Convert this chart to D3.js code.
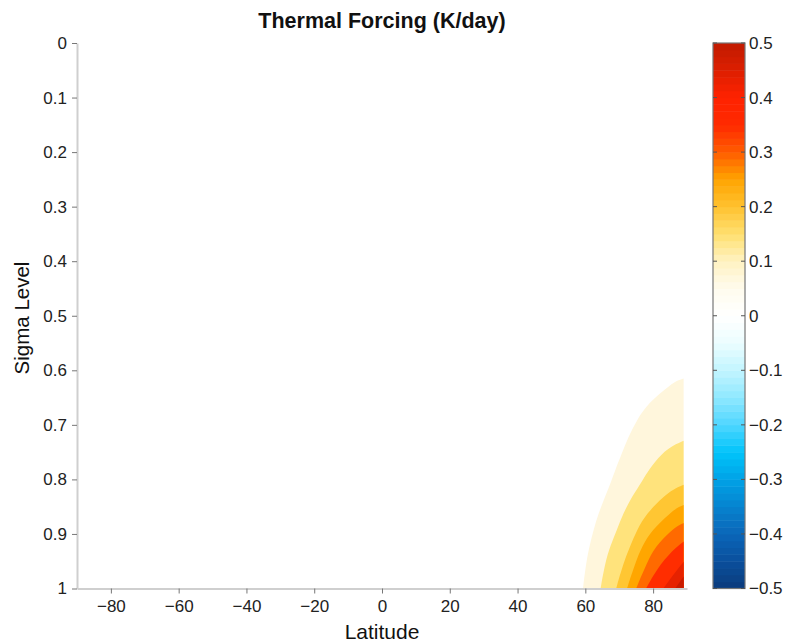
<!DOCTYPE html>
<html>
<head>
<meta charset="utf-8">
<script src="https://cdn.jsdelivr.net/npm/d3@7"></script>
<style>
  body { margin: 0; background: #fff; font-family: "Liberation Sans", Arial, sans-serif; }
  .axis text { font-size: 17px; fill: #222; }
</style>
</head>
<body>
<div id="chart"></div>
<script>
// tick values
const latTicks = [-80, -60, -40, -20, 0, 20, 40, 60, 80];
const sigmaTicks = [0, 0.1, 0.2, 0.3, 0.4, 0.5, 0.6, 0.7, 0.8, 0.9, 1];
const cbarTicks = [0.5, 0.4, 0.3, 0.2, 0.1, 0, -0.1, -0.2, -0.3, -0.4, -0.5];

// contour levels (K/day) and the boundary of each one, [lat, sigma]
const levels = [0.05, 0.1, 0.15, 0.2, 0.25, 0.3, 0.35, 0.4];
const latMax = 89; // last grid latitude
const c05 = [[89, 0.615], [86.5, 0.620], [84.5, 0.630], [78.6, 0.660], [75.2, 0.691], [72.7, 0.722], [70.8, 0.752], [68.8, 0.783], [67.8, 0.801], [65.8, 0.832], [63.9, 0.862], [62.4, 0.893], [61.2, 0.923], [60.2, 0.954], [59.3, 1]];
const c10 = [[89, 0.729], [86, 0.737], [82.6, 0.752], [78.6, 0.783], [77.0, 0.801], [73.7, 0.832], [71.2, 0.862], [69.3, 0.893], [67.3, 0.923], [65.8, 0.954], [64.5, 1]];
const c15 = [[89, 0.810], [86, 0.818], [83.0, 0.832], [78.1, 0.862], [75.2, 0.893], [73.2, 0.923], [71.2, 0.954], [69.1, 1]];
const c20 = [[89, 0.847], [87, 0.852], [85.0, 0.862], [79.6, 0.893], [76.7, 0.923], [74.7, 0.954], [72.3, 1]];
const c25 = [[89, 0.880], [87.5, 0.884], [85.5, 0.893], [80.6, 0.923], [78.1, 0.954], [75.0, 1]];
const c30 = [[89, 0.914], [87.0, 0.923], [82.1, 0.954], [77.9, 1]];
const c35 = [[89, 0.951], [87.0, 0.966], [83.0, 1]];
const c40 = [[89, 0.978], [86.5, 1]];
const contours = [c05, c10, c15, c20, c25, c30, c35, c40];

// colours
const bandColors = ["#fff6dc", "#ffe37c", "#ffc633", "#ffa600", "#ff6a00", "#ff2d00", "#e62200", "#c81b00"];
const cmapStops = [-0.5, -0.45, -0.4, -0.35, -0.3, -0.25, -0.2, -0.15, -0.1, -0.05, 0, 0.05, 0.1, 0.15, 0.2, 0.25, 0.3, 0.35, 0.4, 0.45, 0.5];
const cmapColors = ["#0b3b7c", "#0a4f9c", "#0a66b8", "#0683cf", "#00a2e6", "#00c4fa", "#4fd6ff", "#8fe8ff", "#c2f5ff", "#ebfdff", "#ffffff",
                    "#fffbee", "#fff2c2", "#ffe070", "#ffc230", "#ffa400", "#ff5c00", "#ff2a00", "#ff2200", "#dd1f00", "#c01a00"];

const W = 788, H = 643;
const svg = d3.select("#chart").append("svg").attr("width", W).attr("height", H);

const x = d3.scaleLinear().domain([-90, 90]).range([77, 687]);
const y = d3.scaleLinear().domain([0, 1]).range([43, 588.5]);

// filled contours, lowest level first
const boundary = d3.line()
    .x(d => x(d[0]))
    .y(d => y(d[1]))
    .curve(d3.curveBasis);

svg.append("g")
    .selectAll("path")
    .data(contours)
    .join("path")
    .attr("d", d => boundary(d) + `L${x(latMax)},${y(1)}Z`)
    .attr("fill", (d, i) => bandColors[i]);

// axes
const xAxis = svg.append("g")
    .attr("class", "axis")
    .attr("transform", `translate(0,${y(1)})`)
    .call(d3.axisBottom(x).tickValues(latTicks).tickSize(5).tickSizeOuter(0).tickPadding(6));

const yAxis = svg.append("g")
    .attr("class", "axis")
    .attr("transform", `translate(${x(-90)},0)`)
    .call(d3.axisLeft(y).tickValues(sigmaTicks).tickFormat(d3.format("")).tickSize(5).tickSizeOuter(0).tickPadding(5));

svg.selectAll(".axis .domain").attr("stroke", "#cfcfcf").attr("stroke-width", 2);
svg.selectAll(".axis .tick line").attr("stroke", "#777");

// titles
svg.append("text")
    .attr("x", 382).attr("y", 28)
    .attr("text-anchor", "middle")
    .style("font-size", "21.5px").style("font-weight", "bold").style("fill", "#111")
    .text("Thermal Forcing (K/day)");

svg.append("text")
    .attr("x", 382).attr("y", 639)
    .attr("text-anchor", "middle")
    .style("font-size", "21px").style("fill", "#111")
    .text("Latitude");

svg.append("text")
    .attr("transform", "rotate(-90)")
    .attr("x", -318).attr("y", 29)
    .attr("text-anchor", "middle")
    .style("font-size", "20.5px").style("fill", "#111")
    .text("Sigma Level");

// colorbar
const cmap = d3.scaleLinear().domain(cmapStops).range(cmapColors);
const cy = d3.scaleLinear().domain([0.5, -0.5]).range([43, 588.5]);
const cbX = 713, cbW = 32;
const step = 0.0125;
const steps = d3.range(-0.5, 0.5 - 1e-9, step);

const cbar = svg.append("g");
cbar.selectAll("rect")
    .data(steps)
    .join("rect")
    .attr("x", cbX)
    .attr("y", d => cy(d + step))
    .attr("width", cbW)
    .attr("height", d => cy(d) - cy(d + step) + 0.5)
    .attr("fill", d => cmap(d + step / 2));

cbar.append("rect")
    .attr("x", cbX).attr("y", cy(0.5))
    .attr("width", cbW).attr("height", cy(-0.5) - cy(0.5))
    .attr("fill", "none").attr("stroke", "#777").attr("stroke-width", 1.2);

const cbTicks = cbar.selectAll(".cbtick")
    .data(cbarTicks)
    .join("g")
    .attr("class", "cbtick")
    .attr("transform", d => `translate(0,${cy(d)})`);

cbTicks.append("line")
    .attr("x1", cbX).attr("x2", cbX + 4)
    .attr("stroke", "#555");
cbTicks.append("line")
    .attr("x1", cbX + cbW - 4).attr("x2", cbX + cbW)
    .attr("stroke", "#555");
cbTicks.append("text")
    .attr("x", cbX + cbW + 4)
    .attr("dy", "0.35em")
    .style("font-size", "17px").style("fill", "#222")
    .text(d => d3.format("")(d).replace("-", "\u2212"));
</script>
</body>
</html>
